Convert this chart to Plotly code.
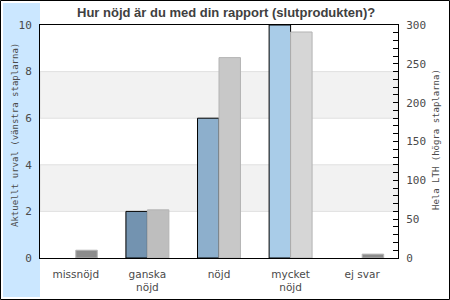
import plotly.graph_objects as go

categories = ["missnöjd", "ganska<br>nöjd", "nöjd", "mycket<br>nöjd", "ej svar"]
selected_values = [None, 2, 6, 10, None]    # Aktuellt urval (left axis); no bar drawn for 0
lth_values = [10, 62, 258, 291, 5]           # Hela LTH (right axis)

left_colors = ["#7393B0", "#7393B0", "#8DAFCC", "#A9CCE8", "#A9CCE8"]
right_colors = ["#8C8C8C", "#BEBEBE", "#C8C8C8", "#D6D6D6", "#8C8C8C"]

W, H = 450, 300
PX0, PX1 = 40, 398   # plot area x (px)
PY0, PY1 = 25, 258   # plot area y (px, from top)

def px(x):
    return x / W

def py(y):
    return 1 - y / H

fig = go.Figure()
fig.add_trace(go.Bar(
    x=categories, y=selected_values, yaxis="y",
    width=0.3, offset=-0.3,
    marker=dict(color=left_colors, line=dict(color="black", width=1)),
    showlegend=False,
))
fig.add_trace(go.Bar(
    x=categories, y=lth_values, yaxis="y2",
    width=0.3, offset=0,
    marker=dict(color=right_colors, line=dict(color="#B4B4B4", width=1)),
    showlegend=False,
))

shapes = [
    dict(type="rect", xref="paper", yref="paper",
         x0=px(0.5), x1=px(449.5), y0=py(299.5), y1=py(0.5),
         line=dict(color="black", width=1), fillcolor="rgba(0,0,0,0)", layer="below"),
    dict(type="rect", xref="paper", yref="paper",
         x0=px(3), x1=px(PX0), y0=py(297), y1=py(3),
         line=dict(width=0), fillcolor="#CBE7FF", layer="below"),
]
for lo, hi in [(2, 4), (6, 8)]:
    shapes.append(dict(type="rect", xref="paper", yref="y",
                       x0=px(PX0), x1=px(PX1), y0=lo, y1=hi,
                       line=dict(color="#E0E0E0", width=1),
                       fillcolor="#F2F2F2", layer="below"))

font_col = "#4A4A4A"
fig.update_layout(
    width=W, height=H,
    margin=dict(l=0, r=0, t=0, b=0),
    paper_bgcolor="white", plot_bgcolor="white",
    barmode="overlay",
    shapes=shapes,
    xaxis=dict(domain=[px(PX0), px(PX1)], showline=True, linecolor="black", linewidth=1,
               mirror=True, showgrid=False, ticks="", automargin=False,
               ticklabelstandoff=6,
               tickfont=dict(family="DejaVu Sans", size=10.5, color=font_col)),
    yaxis=dict(domain=[py(PY1), py(PY0)], range=[0, 10], dtick=2, showline=True,
               linecolor="black", linewidth=1, mirror=True, showgrid=False,
               zeroline=False, ticks="", automargin=False, ticklabelstandoff=5,
               tickfont=dict(family="DejaVu Sans Mono", size=11, color=font_col)),
    yaxis2=dict(overlaying="y", side="right", range=[0, 300], dtick=50,
                showline=True, linecolor="black", linewidth=1, showgrid=False,
                zeroline=False, ticks="inside", ticklen=5, tickcolor="black",
                minor=dict(dtick=10, ticks="inside", ticklen=5, tickcolor="black"),
                automargin=False, ticklabelstandoff=5,
                tickfont=dict(family="DejaVu Sans Mono", size=11, color=font_col)),
    annotations=[
        dict(text="<b>Hur nöjd är du med din rapport (slutprodukten)?</b>",
             xref="paper", yref="paper", x=px(226), y=py(12), showarrow=False,
             xanchor="center", yanchor="middle",
             font=dict(family="Liberation Sans", size=13, color="#404040")),
        dict(text="Aktuellt urval (vänstra staplarna)", textangle=-90,
             xref="paper", yref="paper", x=px(15), y=py(135), showarrow=False,
             xanchor="center", yanchor="middle",
             font=dict(family="DejaVu Sans Mono", size=9, color=font_col)),
        dict(text="Hela LTH (högra staplarna)", textangle=-90,
             xref="paper", yref="paper", x=px(436), y=py(140), showarrow=False,
             xanchor="center", yanchor="middle",
             font=dict(family="DejaVu Sans Mono", size=9, color=font_col)),
    ],
)

fig.write_html("out.html")
